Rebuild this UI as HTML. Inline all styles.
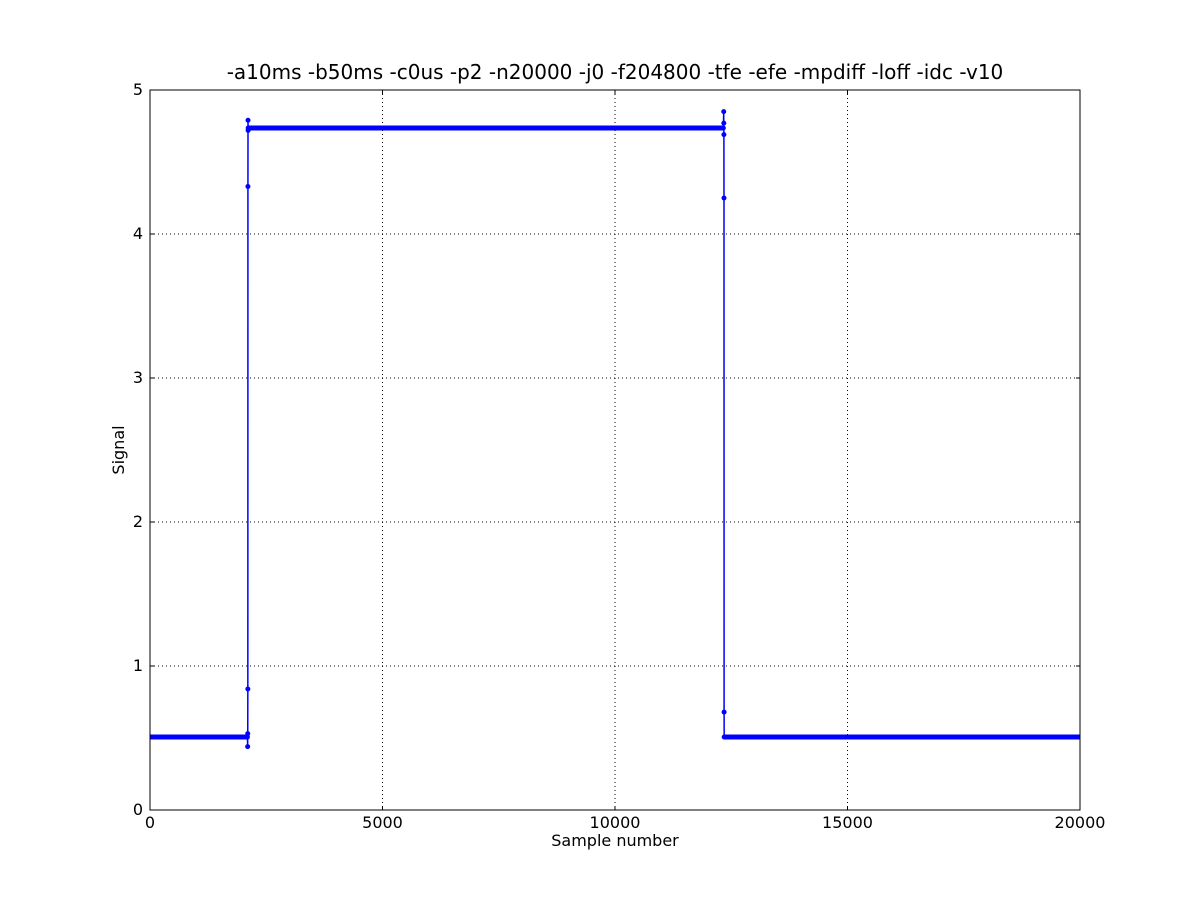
<!DOCTYPE html>
<html><head><meta charset="utf-8"><style>
body{margin:0;background:#fff;}
svg text{font-family:"DejaVu Sans","Liberation Sans",sans-serif;}
</style></head><body>
<svg id="chart" width="1200" height="900" xmlns="http://www.w3.org/2000/svg">
<rect width="1200" height="900" fill="#fff"/>
<g id="grid"></g><g id="series"></g>
<rect x="150" y="90" width="930" height="720" fill="none" stroke="#000" stroke-width="1"/>
<g id="axes"></g>
<text x="615" y="79" font-size="20" text-anchor="middle">-a10ms -b50ms -c0us -p2 -n20000 -j0 -f204800 -tfe -efe -mpdiff -loff -idc -v10</text>
<text x="615" y="846" font-size="16" text-anchor="middle">Sample number</text>
<text x="124" y="450" font-size="16" text-anchor="middle" transform="rotate(-90 124 450)">Signal</text>
</svg>
<script>
const xTicks=[0,5000,10000,15000,20000];
const yTicks=[0,1,2,3,4,5];
const sampleIdx=[0,2095,2100,2102,2104,2106,2108,2110,2112,2115,12330,12338,12340,12342,12344,12346,12348,20000];
const signalVals=[0.507,0.507,0.44,0.53,0.84,4.33,4.79,4.72,4.736,4.736,4.736,4.85,4.77,4.69,4.25,0.68,0.507,0.507];
const plateauIdx=[[0,2095],[2112,12338],[12348,20000]];
const plateauVals=[0.507,4.736,0.507];
const X=v=>150+v/20000*930, Y=v=>810-v/5*720;
const NS="http://www.w3.org/2000/svg";
function mk(t,a,p){const e=document.createElementNS(NS,t);for(const k in a)e.setAttribute(k,a[k]);p.appendChild(e);return e;}
const grid=document.getElementById('grid'),axes=document.getElementById('axes'),ser=document.getElementById('series');
xTicks.forEach(t=>{
 if(t>0&&t<20000){const g=mk('line',{x1:X(t),x2:X(t),y1:90,y2:810,stroke:'#000','stroke-dasharray':'1,3'},grid);
 
 }
 mk('line',{x1:X(t),x2:X(t),y1:810,y2:806,stroke:'#000'},axes);
 mk('line',{x1:X(t),x2:X(t),y1:90,y2:94,stroke:'#000'},axes);
 const l=mk('text',{x:X(t),y:828,'font-size':16,'text-anchor':'middle'},axes);l.textContent=t;
 
 
});
yTicks.forEach(t=>{
 if(t>0&&t<5){const g=mk('line',{x1:150,x2:1080,y1:Y(t),y2:Y(t),stroke:'#000','stroke-dasharray':'1,3'},grid);
 
 }
 mk('line',{x1:150,x2:154,y1:Y(t),y2:Y(t),stroke:'#000'},axes);
 mk('line',{x1:1080,x2:1076,y1:Y(t),y2:Y(t),stroke:'#000'},axes);
 const l=mk('text',{x:143,y:Y(t)+5,'font-size':16,'text-anchor':'end'},axes);l.textContent=t;
 
 
});
const line=mk('polyline',{points:sampleIdx.map((s,i)=>X(s)+','+Y(signalVals[i])).join(' '),fill:'none',stroke:'#00f','stroke-width':1.5},ser);


plateauIdx.forEach((p,i)=>{const r=mk('line',{x1:X(p[0]),x2:X(p[1]),y1:Y(plateauVals[i]),y2:Y(plateauVals[i]),stroke:'#00f','stroke-width':5},ser);
 
 });
sampleIdx.forEach((s,i)=>{if(s>2000&&s<12400){const c=mk('circle',{cx:X(s),cy:Y(signalVals[i]),r:2.5,fill:'#00f'},ser);
 
 }});
</script>
</body></html>
